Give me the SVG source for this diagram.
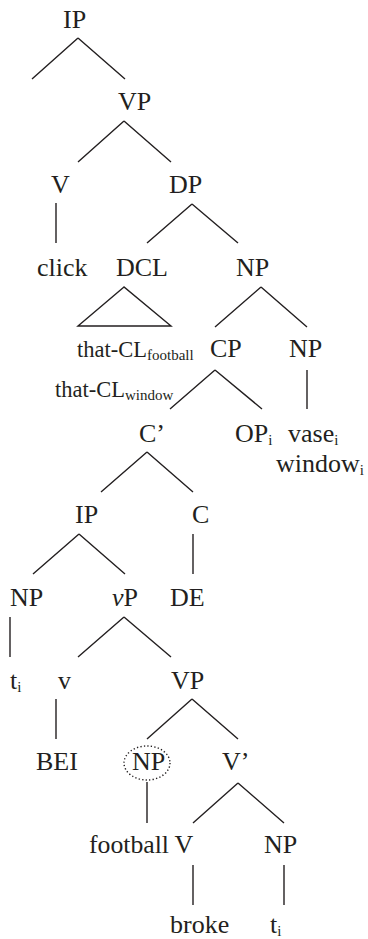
<svg xmlns="http://www.w3.org/2000/svg" width="368" height="939" viewBox="0 0 368 939">
<style>
text{font-family:"Liberation Serif","Times New Roman",serif;font-size:26px;fill:#231f20}
.sm{font-size:22.5px}
.sub{font-size:15px}
.it{font-style:italic}
.e{stroke:#231f20;stroke-width:1.4;fill:none;stroke-linecap:butt}
.dot{stroke:#231f20;stroke-width:1.4;fill:none;stroke-dasharray:1.3 2.2}
</style>
<rect width="368" height="939" fill="#fff"/>
<g id="connectors" class="e">
<path d="M78,38 L32,79 M78,38 L125,79"/>
<path d="M124,121 L78,162 M124,121 L171,162"/>
<path d="M56,203 L56,243"/>
<path d="M192,204 L147,243 M192,204 L238,243"/>
<path d="M124,287 L78,326 L171,326 Z"/>
<path d="M261,287 L215,327 M261,287 L307,327"/>
<path d="M215,370 L170,409 M215,370 L262,409"/>
<path d="M307,370 L307,409"/>
<path d="M147,452 L101,492 M147,452 L193,492"/>
<path d="M79,534 L33,574 M79,534 L125,574"/>
<path d="M193,534 L193,574"/>
<path d="M10,617 L10,657"/>
<path d="M124,617 L78,657 M124,617 L171,657"/>
<path d="M56,699 L56,739"/>
<path d="M192,699 L147,739 M192,699 L238,739"/>
<path d="M147,782 L147,823"/>
<path d="M238,783 L193,823 M238,783 L284,823"/>
<path d="M193,865 L193,905"/>
<path d="M284,865 L284,905"/>
</g>
<g id="ip1"><text x="63" y="28">IP</text></g>
<g id="vp1"><text x="118" y="110">VP</text></g>
<g id="v1"><text x="51" y="193">V</text></g>
<g id="dp"><text x="169" y="193">DP</text></g>
<g id="click"><text x="37" y="276">click</text></g>
<g id="dcl"><text x="116" y="276">DCL</text></g>
<g id="np1"><text x="236" y="276">NP</text></g>
<g id="thatcl-football"><text class="sm" x="77" y="357">that-CL<tspan class="sub" dy="3">football</tspan></text></g>
<g id="cp"><text x="210" y="357">CP</text></g>
<g id="np2"><text x="289" y="357">NP</text></g>
<g id="thatcl-window"><text class="sm" x="55" y="397">that-CL<tspan class="sub" dy="3">window</tspan></text></g>
<g id="cbar"><text x="139" y="442">C’</text></g>
<g id="op"><text x="235" y="442">OP<tspan class="sub" dy="3">i</tspan></text></g>
<g id="vase"><text x="288" y="442">vase<tspan class="sub" dy="3">i</tspan></text></g>
<g id="window"><text x="276" y="472">window<tspan class="sub" dy="3">i</tspan></text></g>
<g id="ip2"><text x="75" y="523">IP</text></g>
<g id="c"><text x="192" y="523">C</text></g>
<g id="np3"><text x="10" y="606">NP</text></g>
<g id="vp-small"><text x="112" y="606"><tspan class="it">v</tspan>P</text></g>
<g id="de"><text x="170" y="606">DE</text></g>
<g id="t1"><text x="10" y="689">t<tspan class="sub" dy="3">i</tspan></text></g>
<g id="v-small"><text x="58" y="689">v</text></g>
<g id="vp2"><text x="171" y="689">VP</text></g>
<g id="bei"><text x="36" y="770">BEI</text></g>
<g id="np4"><ellipse class="dot" cx="147" cy="763" rx="23" ry="17"/><text x="132" y="770">NP</text></g>
<g id="vbar"><text x="222" y="770">V’</text></g>
<g id="football"><text x="89" y="853" textLength="80" lengthAdjust="spacingAndGlyphs">football</text></g>
<g id="v2"><text x="174.5" y="853">V</text></g>
<g id="np5"><text x="264" y="853">NP</text></g>
<g id="broke"><text x="170" y="933">broke</text></g>
<g id="t2"><text x="270" y="933">t<tspan class="sub" dy="3">i</tspan></text></g>
</svg>
